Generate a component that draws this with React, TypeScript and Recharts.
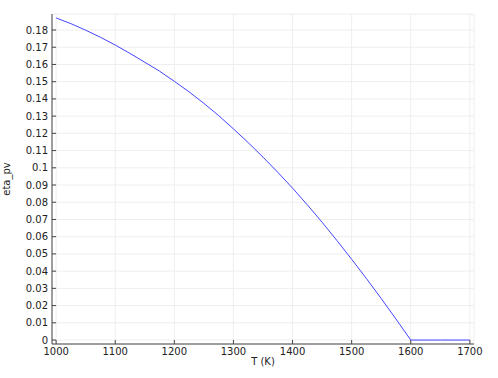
import { CartesianGrid, Label, Line, LineChart, XAxis, YAxis } from "recharts";

// temperature (K) and PV efficiency
const temps = [
  1000, 1025, 1050, 1075, 1100, 1125, 1150, 1175, 1200, 1225, 1250, 1275, 1300, 1325,
  1350, 1375, 1400, 1425, 1450, 1475, 1500, 1525, 1550, 1575, 1600, 1650, 1700,
];
const etaPv = [
  0.187, 0.1837, 0.1799, 0.1758, 0.1713, 0.1664, 0.1613, 0.1561, 0.1502, 0.1441, 0.1374, 0.1303, 0.1226, 0.1146,
  0.1062, 0.0974, 0.0882, 0.0785, 0.0684, 0.0578, 0.0469, 0.0357, 0.0241, 0.0122, 0, 0, 0,
];

const xTicks = [1000, 1100, 1200, 1300, 1400, 1500, 1600, 1700];
const yTicks = [0, 0.01, 0.02, 0.03, 0.04, 0.05, 0.06, 0.07, 0.08, 0.09, 0.1, 0.11, 0.12, 0.13, 0.14, 0.15, 0.16, 0.17, 0.18];

const data = temps.map((t, i) => ({ T: t, eta: etaPv[i] }));

const FONT = "DejaVu Sans";
const TEXT = "#222";
const FRAME = "#444";
const TICK_LEN = 4;

const fmtY = (v: number) => String(Number(v.toFixed(2)));

const LeftTick = (props: any) => {
  const { x, y, payload } = props;
  return (
    <g>
      <line x1={x + 4} y1={y} x2={x + 4 + TICK_LEN} y2={y} stroke={FRAME} />
      <text x={x} y={y} dy="0.35em" textAnchor="end" fontSize={10} fontFamily={FONT} fill={TEXT}>
        {fmtY(payload.value)}
      </text>
    </g>
  );
};

const BottomTick = (props: any) => {
  const { x, y, payload } = props;
  return (
    <g>
      <line x1={x} y1={y - 3} x2={x} y2={y - 3 - TICK_LEN} stroke={FRAME} />
      <text x={x} y={y} dy="0.75em" textAnchor="middle" fontSize={10} fontFamily={FONT} fill={TEXT}>
        {payload.value}
      </text>
    </g>
  );
};

const TopTick = (props: any) => {
  const { x, y } = props;
  return <line x1={x} y1={y} x2={x} y2={y + TICK_LEN} stroke={FRAME} />;
};

const RightTick = (props: any) => {
  const { x, y } = props;
  return <line x1={x} y1={y} x2={x - TICK_LEN} y2={y} stroke={FRAME} />;
};

export default function App() {
  return (
    <div style={{ position: "absolute", left: 0, top: 0 }}>
      <LineChart width={498} height={378} data={data} margin={{ top: 14, right: 24, bottom: 0, left: 0 }}>
        <CartesianGrid stroke="#eeeeee" />
        <XAxis
          dataKey="T"
          type="number"
          domain={[993, 1707]}
          ticks={xTicks}
          interval={0}
          height={34}
          tickSize={0}
          tickMargin={3}
          tick={BottomTick}
          stroke={FRAME}
        >
          <Label value="T (K)" position="insideBottom" offset={13} fontSize={10} fontFamily={FONT} fill={TEXT} />
        </XAxis>
        <XAxis
          xAxisId="top"
          orientation="top"
          type="number"
          domain={[993, 1707]}
          ticks={xTicks}
          interval={0}
          height={0}
          tickSize={0}
          tickMargin={0}
          tick={TopTick}
          stroke={FRAME}
        />
        <YAxis
          type="number"
          domain={[-0.0023, 0.1893]}
          ticks={yTicks}
          interval={0}
          width={52}
          tickSize={0}
          tickMargin={4}
          tick={LeftTick}
          stroke={FRAME}
        >
          <Label
            value="eta_pv"
            angle={-90}
            position="insideLeft"
            offset={6}
            fontSize={10}
            fontFamily={FONT}
            fill={TEXT}
            style={{ textAnchor: "middle" }}
          />
        </YAxis>
        <YAxis
          yAxisId="right"
          orientation="right"
          type="number"
          domain={[-0.0023, 0.1893]}
          ticks={yTicks}
          interval={0}
          width={0}
          tickSize={0}
          tickMargin={0}
          tick={RightTick}
          stroke={FRAME}
        />
        <Line
          type="linear"
          dataKey="eta"
          stroke="#4545ff"
          strokeWidth={1}
          dot={false}
          isAnimationActive={false}
        />
      </LineChart>
    </div>
  );
}
